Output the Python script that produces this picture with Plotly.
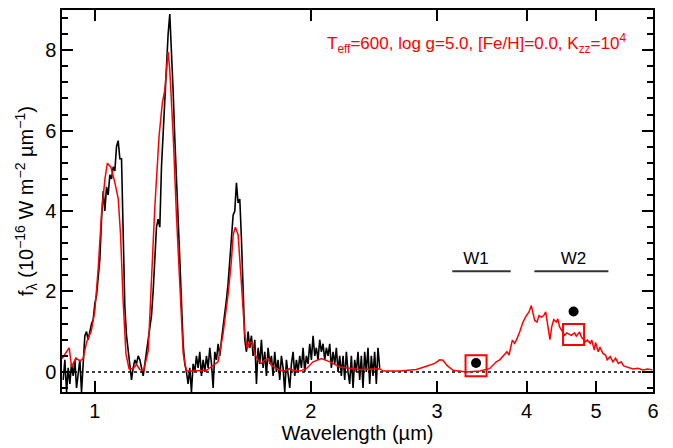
import plotly.graph_objects as go

# observed spectrum (black), wavelength in micron, flux in 1e-16 W m-2 um-1
obs_wave = [0.9034, 0.9082, 0.9132, 0.9180, 0.9229, 0.9278, 0.9329, 0.9378, 0.9429, 0.9479,
            0.9530, 0.9581, 0.9633, 0.9684, 0.9736, 0.9788, 0.9841, 0.9894, 0.9947, 1.0000,
            1.0054, 1.0108, 1.0162, 1.0217, 1.0271, 1.0326, 1.0382, 1.0437, 1.0493, 1.0550,
            1.0606, 1.0663, 1.0720, 1.0778, 1.0836, 1.0894, 1.0952, 1.1011, 1.1070, 1.1129,
            1.1189, 1.1249, 1.1309, 1.1370, 1.1431, 1.1492, 1.1554, 1.1616, 1.1678, 1.1741,
            1.1803, 1.1866, 1.1930, 1.1994, 1.2058, 1.2123, 1.2188, 1.2253, 1.2319, 1.2385,
            1.2451, 1.2518, 1.2585, 1.2652, 1.2720, 1.2788, 1.2857, 1.2926, 1.2995, 1.3065,
            1.3135, 1.3205, 1.3276, 1.3347, 1.3419, 1.3491, 1.3563, 1.3636, 1.3709, 1.3783,
            1.3857, 1.3931, 1.4006, 1.4081, 1.4157, 1.4233, 1.4309, 1.4386, 1.4463, 1.4541,
            1.4619, 1.4697, 1.4776, 1.4855, 1.4935, 1.5015, 1.5095, 1.5176, 1.5258, 1.5339,
            1.5422, 1.5504, 1.5588, 1.5671, 1.5755, 1.5840, 1.5925, 1.6010, 1.6096, 1.6182,
            1.6269, 1.6356, 1.6444, 1.6532, 1.6621, 1.6710, 1.6800, 1.6890, 1.6980, 1.7071,
            1.7163, 1.7255, 1.7347, 1.7440, 1.7534, 1.7628, 1.7722, 1.7817, 1.7913, 1.8009,
            1.8105, 1.8202, 1.8300, 1.8398, 1.8497, 1.8596, 1.8696, 1.8796, 1.8897, 1.8998,
            1.9100, 1.9202, 1.9305, 1.9409, 1.9513, 1.9617, 1.9722, 1.9828, 1.9934, 2.0041,
            2.0149, 2.0257, 2.0365, 2.0474, 2.0584, 2.0694, 2.0805, 2.0917, 2.1029, 2.1142,
            2.1255, 2.1369, 2.1483, 2.1599, 2.1714, 2.1831, 2.1948, 2.2065, 2.2184, 2.2303,
            2.2422, 2.2542, 2.2663, 2.2785, 2.2907, 2.3029, 2.3153, 2.3277, 2.3402, 2.3527,
            2.3653, 2.3780, 2.3907, 2.4035, 2.4164, 2.4294, 2.4424, 2.4555, 2.4686, 2.4819,
            2.4952]
obs_flux = [-0.2, 0.3, -0.5, 0.1, -0.3, 0.2, -0.1, 0.3, -0.4, 0.0,
            0.3, -0.5, 0.1, 0.9, 1.0, 0.8, 1.0, 1.2, 1.3, 1.7,
            1.9, 2.3, 2.8, 3.8, 4.5, 4.0, 4.6, 4.4, 4.9, 4.8,
            5.1, 5.0, 5.6, 5.75, 5.3, 5.3, 3.2, 1.6, 0.9, 0.5,
            0.1, -0.2, 0.1, 0.3, 0.2, 0.4, 0.3, 0.1, -0.1, 0.2,
            0.5, 0.8, 1.0, 1.4, 2.0, 2.8, 3.6, 3.8, 3.6, 5.1,
            6.0, 6.8, 7.5, 8.4, 8.9, 8.1, 7.0, 5.8, 4.6, 3.8,
            2.8, 1.6, 0.7, 0.2, 0.0, -0.3, 0.1, -0.5, 0.2, 0.0,
            0.4, 0.1, 0.5, -0.1, 0.3, 0.0, 0.4, 0.1, 0.6, 0.2,
            -0.4, 0.5, 0.3, 0.7, 0.4, 0.8, 1.1, 1.4, 1.8, 2.2,
            2.8, 3.2, 3.9, 4.0, 4.7, 4.2, 4.3, 3.3, 1.8, 0.8,
            0.5, 1.0, 0.6, 0.9, 0.4, 0.8, -0.3, 0.6, 0.2, 0.8,
            0.1, 0.5, -0.1, 0.6, 0.2, 0.4, -0.1, 0.5, 0.0, 0.3,
            -0.2, 0.4, 0.1, -0.5, 0.3, 0.0, -0.4, 0.2, 0.5, -0.1,
            0.3, 0.0, 0.4, 0.1, 0.6, 0.0, 0.4, 0.2, 0.7, 0.3,
            0.9, 0.4, 0.6, 0.3, 0.8, 0.5, 0.7, 0.3, 0.6, 0.4,
            0.7, 0.1, 0.5, 0.2, 0.6, 0.0, 0.4, -0.1, 0.4, -0.2,
            0.5, 0.0, -0.3, 0.4, -0.4, 0.3, 0.0, 0.5, -0.2, 0.4,
            -0.4, 0.5, 0.0, 0.6, -0.3, 0.4, -0.1, 0.5, -0.3, 0.6,
            0.1]

# model spectrum (red)
model_wave = [0.900, 0.921, 0.928, 0.941, 0.953, 0.963, 0.974, 0.989, 1.000, 1.011,
              1.022, 1.033, 1.041, 1.053, 1.066, 1.078, 1.086, 1.095, 1.105, 1.116,
              1.131, 1.143, 1.155, 1.170, 1.187, 1.199, 1.212, 1.229, 1.242, 1.252,
              1.259, 1.265, 1.272, 1.286, 1.300, 1.314, 1.328, 1.342, 1.371, 1.431,
              1.462, 1.485, 1.509, 1.534, 1.550, 1.559, 1.570, 1.584, 1.601, 1.618,
              1.631, 1.644, 1.658, 1.671, 1.689, 1.707, 1.725, 1.744, 1.763, 1.791,
              1.830, 1.869, 1.889, 1.931, 1.972, 2.015, 2.070, 2.126, 2.195, 2.341,
              2.496, 2.522, 2.661, 2.807, 2.899, 2.977, 3.026, 3.058, 3.097, 3.158,
              3.296, 3.440, 3.551, 3.628,
              3.668, 3.727, 3.755, 3.780, 3.820, 3.848, 3.870, 3.911, 3.953, 3.996,
              4.030, 4.060, 4.080, 4.105, 4.135, 4.162, 4.194, 4.225, 4.252, 4.270,
              4.298, 4.310, 4.335, 4.363, 4.401, 4.420, 4.446, 4.470, 4.518, 4.550,
              4.616, 4.665, 4.690, 4.741, 4.770, 4.833, 4.860, 4.907, 4.930, 4.970,
              4.990, 5.034, 5.060, 5.109, 5.153, 5.180, 5.231, 5.276, 5.321, 5.368,
              5.419, 5.460, 5.536, 5.626, 5.717, 5.810, 5.900, 5.990]
model_flux = [0.33, 0.60, 0.12, 0.35, 0.27, 0.33, 0.74, 1.03, 1.52, 2.59,
              3.98, 4.80, 5.19, 5.09, 4.72, 4.31, 3.41, 1.77, 0.45, 0.08,
              0.08, 0.19, 0.06, 0.04, 0.53, 2.18, 4.06, 5.87, 6.69, 7.02,
              7.51, 7.96, 7.51, 5.87, 3.82, 1.93, 0.45, 0.02, 0.02, 0.04,
              0.16, 0.25, 0.94, 1.93, 2.75, 3.41, 3.60, 3.41, 2.18, 0.94,
              0.57, 0.74, 0.72, 0.45, 0.29, 0.21, 0.30, 0.33, 0.16, 0.08,
              0.02, 0.08, 0.04, 0.02, 0.08, 0.25, 0.33, 0.25, 0.12, 0.06,
              0.08, 0.02, 0.02, 0.06, 0.14, 0.21, 0.30, 0.29, 0.16, 0.04,
              0.00, 0.02, 0.08, 0.25,
              0.30, 0.42, 0.50, 0.42, 0.79, 0.71, 0.79, 0.99, 1.24, 1.40,
              1.49, 1.65, 1.49, 1.28, 1.24, 1.40, 1.36, 1.40, 1.49, 1.28,
              1.03, 0.80, 1.12, 1.30, 1.24, 1.32, 1.12, 1.05, 0.91, 0.97,
              0.91, 0.97, 0.89, 0.99, 0.86, 0.75, 0.79, 0.71, 0.79, 0.54,
              0.73, 0.50, 0.62, 0.46, 0.42, 0.30, 0.38, 0.25, 0.34, 0.21,
              0.25, 0.15, 0.11, 0.07, 0.09, 0.05, 0.07, 0.05]

# WISE photometry: observed (dots) and synthetic from model (squares)
band_names = ["W1", "W2"]
band_wave = [3.40, 4.65]
band_obs = [0.22, 1.50]
band_model = [0.15, 0.93]
band_lo = [3.15, 4.10]
band_hi = [3.80, 5.20]
band_bar_y = 2.5
band_label_y = 2.8

RED = "#ff0000"
font = "Liberation Sans, Arial, Helvetica, sans-serif"

fig = go.Figure()

fig.add_trace(go.Scatter(x=[0.9, 6.0], y=[0, 0], mode="lines",
                         line=dict(color="black", width=1.5, dash="dot")))
fig.add_trace(go.Scatter(x=obs_wave, y=obs_flux, mode="lines",
                         line=dict(color="black", width=1.6)))
fig.add_trace(go.Scatter(x=model_wave, y=model_flux, mode="lines",
                         line=dict(color=RED, width=1.5)))

for lo, hi in zip(band_lo, band_hi):
    fig.add_trace(go.Scatter(x=[lo, hi], y=[band_bar_y, band_bar_y], mode="lines",
                             line=dict(color="#333333", width=2)))
fig.add_trace(go.Scatter(x=band_wave, y=[band_label_y] * 2, mode="text",
                         text=band_names, textfont=dict(size=17, color="black", family=font)))

fig.add_trace(go.Scatter(x=band_wave, y=band_model, mode="markers",
                         marker=dict(symbol="square-open", size=21, color=RED,
                                     line=dict(color=RED, width=2))))
fig.add_trace(go.Scatter(x=band_wave, y=band_obs, mode="markers",
                         marker=dict(symbol="circle", size=10, color="black")))

fig.add_annotation(xref="paper", yref="paper", x=0.958, y=0.912, xanchor="right", yanchor="middle",
                   text="T<sub>eff</sub>=600, log g=5.0, [Fe/H]=0.0, K<sub>zz</sub>=10<sup>4</sup>",
                   showarrow=False, font=dict(size=17, color=RED, family=font))

axis_common = dict(showline=True, linecolor="black", linewidth=1.5, mirror="allticks",
                   ticks="inside", tickcolor="black", tickwidth=1.5, ticklen=11,
                   showgrid=False, zeroline=False,
                   tickfont=dict(size=20, color="black", family=font))

fig.update_xaxes(type="log", range=[-0.0458, 0.7782], tickvals=[1, 2, 3, 4, 5, 6],
                 ticktext=["1", "2", "3", "4", "5", "6"],
                 title=dict(text="Wavelength (µm)", font=dict(size=20, color="black", family=font),
                            standoff=2),
                 **axis_common)
fig.update_yaxes(range=[-0.5, 9], tickvals=[0, 2, 4, 6, 8],
                 minor=dict(dtick=0.4, tick0=0, ticks="inside", ticklen=6, tickwidth=1.5,
                            tickcolor="black"),
                 title=dict(text="f<sub>λ</sub> (10<sup>−16</sup> W m<sup>−2</sup> µm<sup>−1</sup>)",
                            font=dict(size=20, color="black", family=font), standoff=6),
                 **axis_common)

# page body has an 8 px margin, so the figure is drawn slightly smaller
fig.update_layout(width=665, height=440, showlegend=False,
                  margin=dict(l=54, r=20, t=0, b=56),
                  plot_bgcolor="white", paper_bgcolor="white")

fig.write_html("out.html")
